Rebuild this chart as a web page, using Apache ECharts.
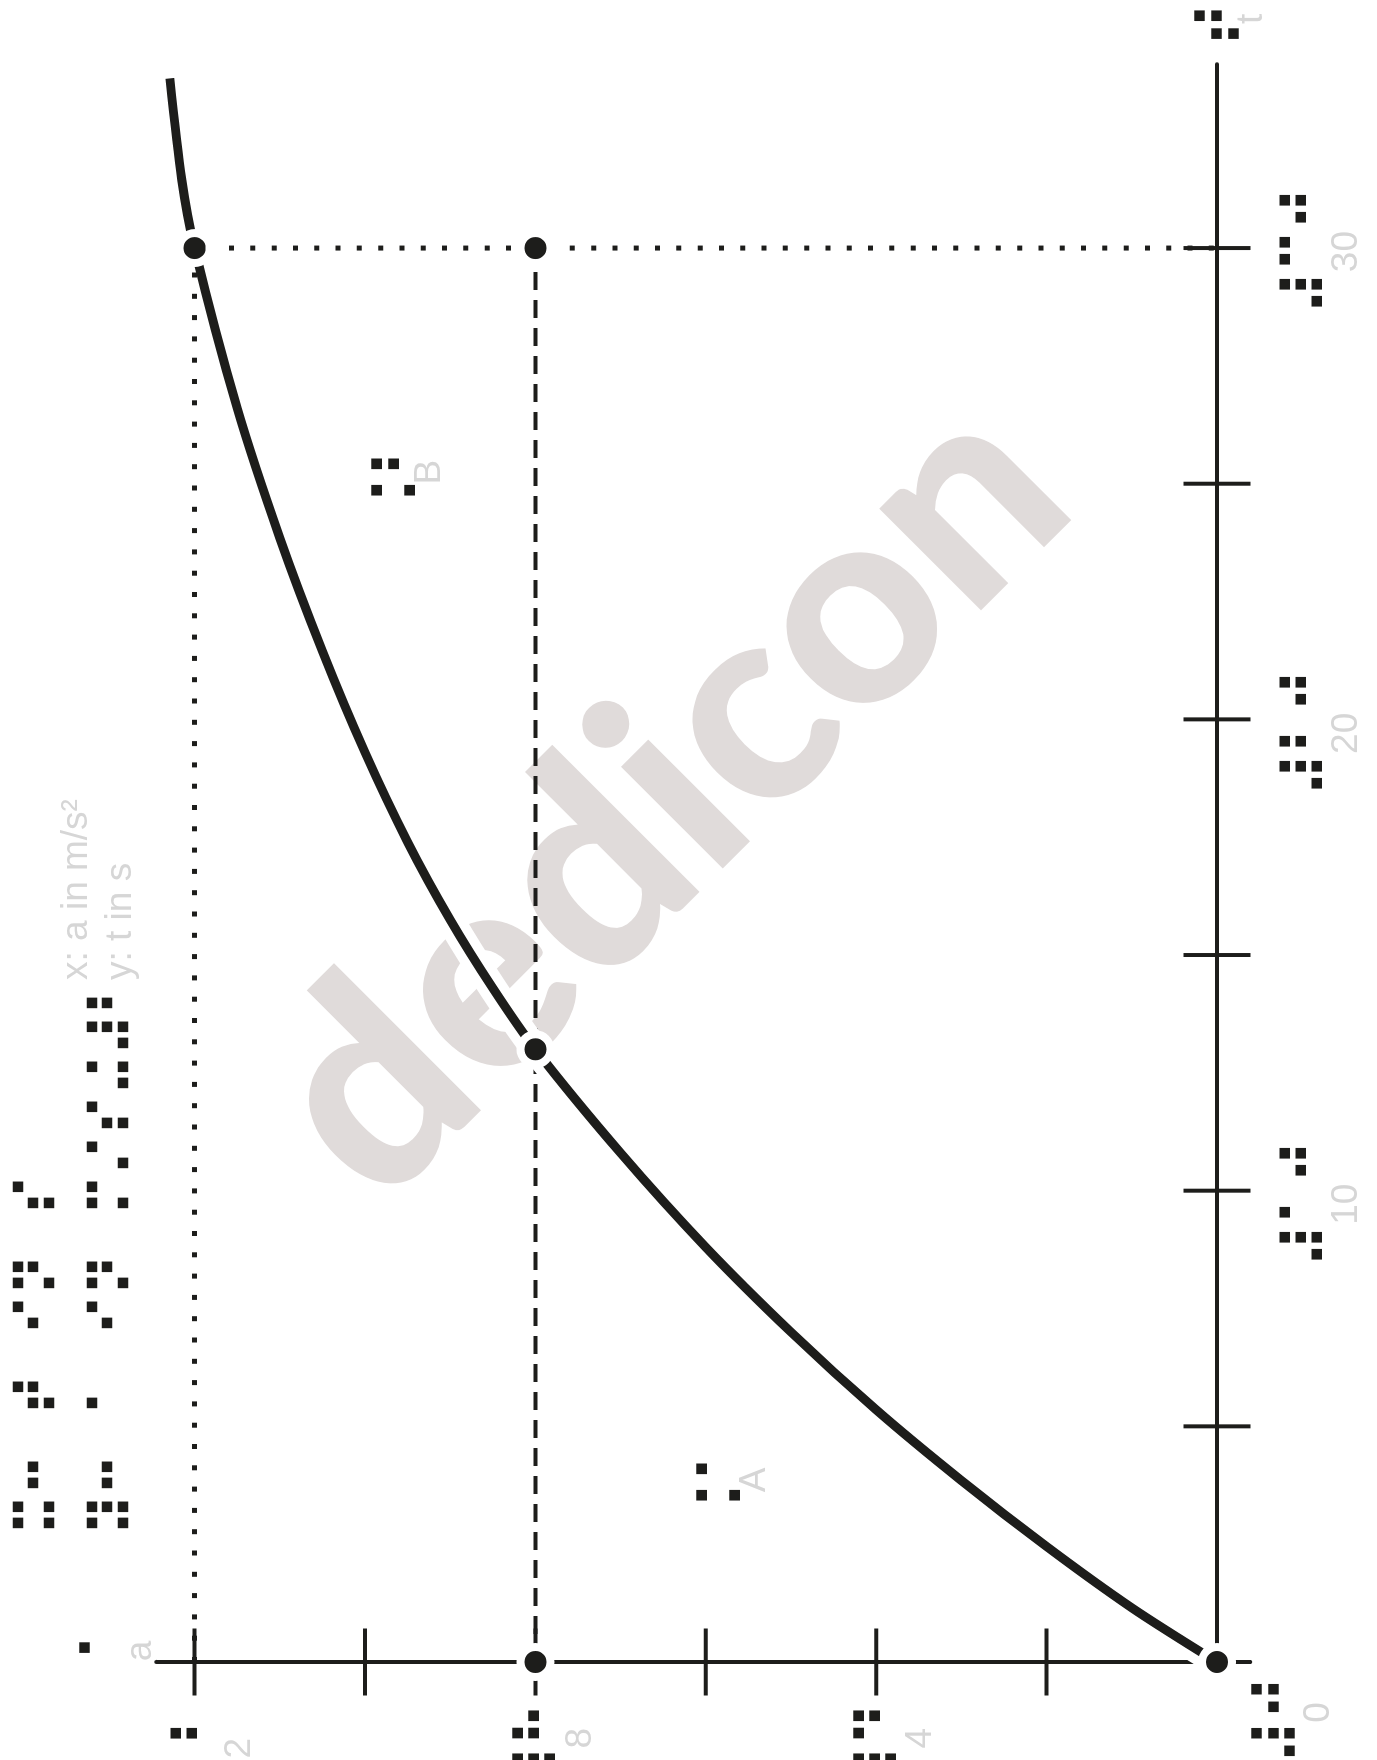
<!DOCTYPE html>
<html>
<head>
<meta charset="utf-8">
<script src="https://cdn.jsdelivr.net/npm/echarts@6/dist/echarts.min.js"></script>
<style>
html,body{margin:0;padding:0;background:#ffffff;overflow:hidden;}
#wrap{position:absolute;left:0;top:0;width:1377px;height:1760px;overflow:hidden;background:#fff;}
#chart{position:absolute;left:0;top:0;width:1760px;height:1377px;transform-origin:0 0;transform:translate(0px,1760px) rotate(-90deg);}
</style>
</head>
<body>
<div id="wrap"><div id="chart"></div></div>
<script>
// ---------------- data ----------------
const curveT = [0, 1.15, 2.45, 3.85, 5.35, 7.0, 8.8, 10.8, 13.0, 14.3, 15.75, 17.4, 19.3, 21.45, 23.85, 26.6, 30.0, 31.45, 33.6];
const curveA = [0, 1, 2, 3, 4, 5, 6, 7, 8, 8.5, 9, 9.5, 10, 10.5, 11, 11.5, 12, 12.15, 12.29];
const pointT = [0, 0, 13, 30, 30];
const pointA = [0, 8, 8, 8, 12];
const dashedT = [0, 30];
const dashedA = [8, 8];
const dottedT = [0, 30, 30];
const dottedA = [12, 12, 0];
const tAxisEnds = [-0.7, 33.9];
const aAxisEnds = [-0.39, 12.45];
const tTicks = [5, 10, 15, 20, 25, 30];
const aTicks = [2, 4, 6, 8, 10, 12];
const tLabelVals = [10, 20, 30];
const tLabelText = ['10', '20', '30'];
const tLabelBraille = ['⠼⠁⠚', '⠼⠃⠚', '⠼⠉⠚'];
const aLabelVals = [4, 8, 12];
const aLabelText = ['4', '8', '12'];
const aLabelBraille = ['⠼⠙', '⠼⠓', '⠼⠁⠃'];
const zeroText = '0';
const zeroBraille = '⠼⠚';
const tName = 't', tNameBraille = '⠞';
const aName = 'a', aNameBraille = '⠁';
const regionText = ['A', 'B'];
const regionBraille = ['⠨⠁', '⠨⠃'];
const titleText = ['x: a in m/s²', 'y: t in s'];
const titleBraille = ['⠭⠒⠀⠞⠀⠊⠝⠀⠎', '⠽⠒⠀⠁⠀⠊⠝⠀⠍⠌⠎⠬⠼⠃'];
const watermarkText = 'dedicon';

// ---------------- layout / style ----------------
const BLACK = '#1d1d1b';
const GRAY = '#d6d6d6';
const WM = '#e0dbda';
const PRINT_FONT = '37px "Liberation Sans", Arial, sans-serif';
const DOT_PITCH = 17.3, DOT_SIZE = 10.5;
const L = {
  tLabelShift: [-13.5, -14, -3.5],
  tBrailleMid: 83.7, tPrintMid: 129.5, labelPitch: 41.5,
  aBrailleLastCol: -71, aBrailleMidRow: -2, aPrintRight: [-66, -66, -76], aPrintMid: 45,
  zeroBraille: [-89, 56.3], zeroPrint: [-50.5, 101.5],
  tNameBraille: [30.5, 0], tNamePrint: [45.5, 35],
  aNameBraille: [14.3, -71.5], aNamePrint: [11, -15],
  regionAnchor: [[3.8, 5.857], [25.14, 9.67]], regionPitch: 43,
  regionPrint: [[3, 36.5], [5, 36.5]],
  titleBraille: [[237.1, 33.3], [237.1, 106.7]], titlePitch: 40.2,
  titlePrint: [[780, 77.2], [780, 121.2]],
  watermark: [963, 667, 279]
};

function calibrate(fam) {
  const S = 200, W = 800, H = 600, x0 = 50, y0 = 300;
  const cv = document.createElement('canvas'); cv.width = W; cv.height = H;
  const ctx = cv.getContext('2d');
  ctx.font = S + 'px ' + fam; ctx.textBaseline = 'middle'; ctx.textAlign = 'left'; ctx.fillStyle = '#000';
  ctx.fillText('\u283F\u283F', x0, y0);
  const d = ctx.getImageData(0, 0, W, H).data;
  const col = new Uint8Array(W), row = new Uint8Array(H);
  for (let y = 0; y < H; y++) for (let x = 0; x < W; x++) { if (d[(y * W + x) * 4 + 3] > 128) { col[x] = 1; row[y] = 1; } }
  const runs = a => { const r = []; let s = -1; for (let i = 0; i <= a.length; i++) { const v = i < a.length && a[i]; if (v && s < 0) s = i; if (!v && s >= 0) { r.push([s, i - 1]); s = -1; } } return r; };
  const cr = runs(col), rr = runs(row);
  const c = r => (r[0] + r[1]) / 2;
  if (cr.length === 4 && rr.length === 3) {
    const o = { ok: true, fam: fam, col1: (c(cr[0]) - x0) / S, colPitch: (c(cr[1]) - c(cr[0])) / S, adv: (c(cr[2]) - c(cr[0])) / S,
      row1: (c(rr[0]) - y0) / S, rowPitch: (c(rr[2]) - c(rr[0])) / 2 / S, dot: (rr[0][1] - rr[0][0] + 1) / S };
    o.dp = (o.colPitch + o.rowPitch) / 2;
    return o;
  }
  return null;
}
const cands = ['"DejaVu Sans Mono"', '"DejaVu Sans"'].map(calibrate).filter(Boolean);
let cal = cands.length ? cands[0] : { ok: false, fam: '"DejaVu Sans"', col1: 0.215, colPitch: 0.295, adv: 0.735, row1: -0.45, rowPitch: 0.278, dot: 0.145, dp: 0.2865 };
cands.forEach(c => { if (Math.abs(c.adv / c.dp - 2.35) < Math.abs(cal.adv / cal.dp - 2.35)) cal = c; });

// font size that best fits both the cell pitch (weighted by length) and the dot pitch
function fitSize(n, pitch) {
  const a1 = cal.adv / pitch, a2 = cal.dp / DOT_PITCH, w = Math.max(0, n - 1) * Math.max(0, n - 1);
  return (w * a1 + a2) / (w * a1 * a1 + a2 * a2);
}

const chart = echarts.init(document.getElementById('chart'), null, { renderer: 'canvas' });
const pairs = (xs, ys) => xs.map((x, i) => [x, ys[i]]);
const curveData = pairs(curveT, curveA);
const hiddenAxis = { axisLine: { show: false }, axisTick: { show: false }, axisLabel: { show: false }, splitLine: { show: false } };

chart.setOption({
  animation: false,
  backgroundColor: '#ffffff',
  grid: { left: 98, right: 12.4, top: 109.4, bottom: 160, containLabel: false },
  xAxis: Object.assign({ type: 'value', min: 0, max: 35, interval: 5 }, hiddenAxis),
  yAxis: Object.assign({ type: 'value', min: 0, max: 13, interval: 1 }, hiddenAxis),
  series: [
    { type: 'line', data: tAxisEnds.map(t => [t, 0]), symbol: 'none', clip: false, silent: true, z: 2,
      lineStyle: { color: BLACK, width: 4, cap: 'round', opacity: 1 } },
    { type: 'line', data: aAxisEnds.map(a => [0, a]), symbol: 'none', clip: false, silent: true, z: 2,
      lineStyle: { color: BLACK, width: 4, cap: 'round', opacity: 1 } },
    { type: 'scatter', data: tTicks.map(t => [t, 0]), symbol: 'rect', symbolSize: [4, 67], clip: false, silent: true, z: 2,
      itemStyle: { color: BLACK, opacity: 1 } },
    { type: 'scatter', data: aTicks.map(a => [0, a]), symbol: 'rect', symbolSize: [67, 4], clip: false, silent: true, z: 2,
      itemStyle: { color: BLACK, opacity: 1 } },
    { type: 'line', data: pairs(dashedT, dashedA), symbol: 'none', clip: false, silent: true, z: 2,
      lineStyle: { color: BLACK, width: 4, type: [18, 10], cap: 'butt', opacity: 1 } },
    { type: 'line', data: curveData, symbol: 'none', smooth: 0.3, clip: false, silent: true, z: 3,
      lineStyle: { color: '#ffffff', width: 28, cap: 'butt', opacity: 1 } },
    { type: 'line', data: curveData, symbol: 'none', smooth: 0.3, clip: false, silent: true, z: 4,
      lineStyle: { color: BLACK, width: 9, cap: 'butt', opacity: 1 } },
    { type: 'line', data: pairs(dottedT, dottedA), symbol: 'none', clip: false, silent: true, z: 4,
      lineStyle: { color: BLACK, width: 5, type: [5, 16.3], cap: 'butt', opacity: 1 } },
    { type: 'scatter', data: pairs(pointT, pointA), symbol: 'circle', symbolSize: 30, clip: false, silent: true, z: 5,
      itemStyle: { color: BLACK, borderColor: '#ffffff', borderWidth: 8, opacity: 1 } }
  ]
});

const P = (t, a) => chart.convertToPixel({ gridIndex: 0 }, [t, a]);
const O = P(0, 0);
const els = [];
function txt(text, x, y, font, fill, align, valign, extra) {
  const e = { type: 'text', z: 50, silent: true,
    style: { text: text, x: x, y: y, font: font, fill: fill, align: align, verticalAlign: valign, textAlign: align, textVerticalAlign: valign } };
  return Object.assign(e, extra || {});
}
// braille string: first cell's left dot column at leftColX, middle dot row at midY
function braille(str, leftColX, midY, pitch) {
  const n = Array.from(str).length;
  const S = fitSize(n, pitch);
  const lw = Math.max(0, DOT_SIZE - cal.dot * S);
  const e = txt(str, leftColX - cal.col1 * S, midY - (cal.row1 + cal.rowPitch) * S, S.toFixed(2) + 'px ' + cal.fam, BLACK, 'left', 'middle');
  e.style.stroke = BLACK; e.style.lineWidth = lw; e.style.lineJoin = 'round';
  els.push(e);
  return S;
}
const brWidth = (str, pitch) => { const n = Array.from(str).length; const S = fitSize(n, pitch); return ((n - 1) * cal.adv + cal.colPitch) * S; };
const brAdv = (str, pitch) => cal.adv * fitSize(Array.from(str).length, pitch);

// watermark
els.push(txt(watermarkText, 0, 0, '900 ' + L.watermark[2] + 'px Lato, "DejaVu Sans", sans-serif', WM, 'center', 'middle',
  { z: 0, x: L.watermark[0], y: L.watermark[1], rotation: -Math.PI / 4 }));

// t-axis labels
tLabelVals.forEach((v, i) => {
  const p = P(v, 0);
  const cx = p[0] + L.tLabelShift[i];
  const s = tLabelBraille[i];
  braille(s, cx - brWidth(s, L.labelPitch) / 2, O[1] + L.tBrailleMid, L.labelPitch);
  els.push(txt(tLabelText[i], cx, O[1] + L.tPrintMid, PRINT_FONT, GRAY, 'center', 'middle'));
});
// a-axis labels
aLabelVals.forEach((v, i) => {
  const p = P(0, v);
  const s = aLabelBraille[i];
  const n = Array.from(s).length;
  braille(s, O[0] + L.aBrailleLastCol - (n - 1) * brAdv(s, L.labelPitch), p[1] + L.aBrailleMidRow, L.labelPitch);
  els.push(txt(aLabelText[i], O[0] + L.aPrintRight[i], p[1] + L.aPrintMid, PRINT_FONT, GRAY, 'right', 'middle'));
});
// zero label
braille(zeroBraille, O[0] + L.zeroBraille[0], O[1] + L.zeroBraille[1], 44);
els.push(txt(zeroText, O[0] + L.zeroPrint[0], O[1] + L.zeroPrint[1], PRINT_FONT, GRAY, 'center', 'middle'));
// axis names
const tEnd = P(tAxisEnds[1], 0), aEnd = P(0, aAxisEnds[1]);
braille(tNameBraille, tEnd[0] + L.tNameBraille[0], tEnd[1] + L.tNameBraille[1], L.labelPitch);
els.push(txt(tName, tEnd[0] + L.tNamePrint[0], tEnd[1] + L.tNamePrint[1], PRINT_FONT, GRAY, 'center', 'middle'));
{
  const S = fitSize(1, L.labelPitch);
  braille(aNameBraille, aEnd[0] + L.aNameBraille[0], aEnd[1] + L.aNameBraille[1] + cal.rowPitch * S, L.labelPitch);
}
els.push(txt(aName, aEnd[0] + L.aNamePrint[0], aEnd[1] + L.aNamePrint[1], PRINT_FONT, GRAY, 'center', 'middle'));
// region labels
regionText.forEach((r, i) => {
  const p = P(L.regionAnchor[i][0], L.regionAnchor[i][1]);
  const s = regionBraille[i];
  braille(s, p[0] - brWidth(s, L.regionPitch) / 2, p[1], L.regionPitch);
  els.push(txt(r, p[0] + L.regionPrint[i][0], p[1] + L.regionPrint[i][1], PRINT_FONT, GRAY, 'center', 'middle'));
});
// title block
titleBraille.forEach((s, i) => braille(s, L.titleBraille[i][0], L.titleBraille[i][1], L.titlePitch));
titleText.forEach((s, i) => els.push(txt(s, L.titlePrint[i][0], L.titlePrint[i][1], PRINT_FONT, GRAY, 'left', 'middle')));

chart.setOption({ graphic: { elements: els } });
</script>
</body>
</html>
